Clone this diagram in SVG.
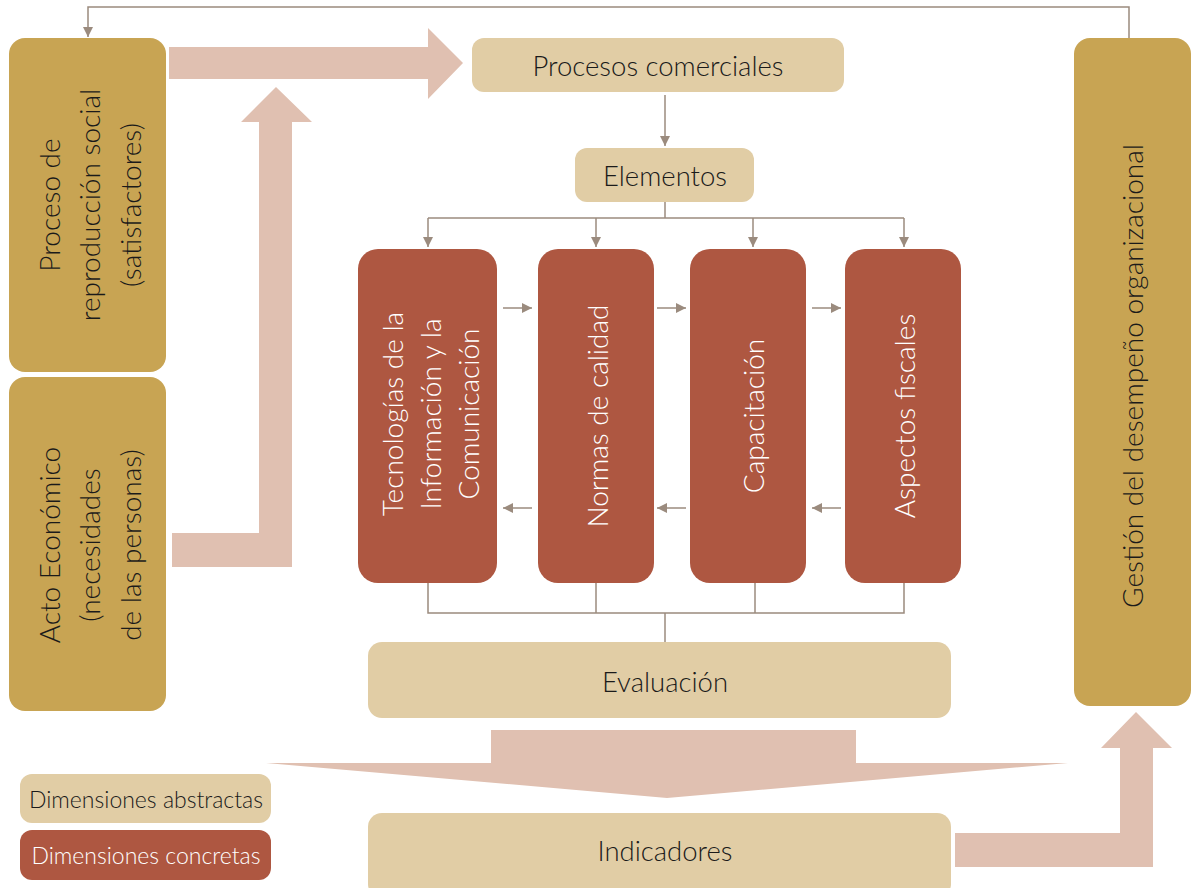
<svg xmlns="http://www.w3.org/2000/svg" width="1191" height="888" viewBox="0 0 1191 888">
<defs>
<style>
.gold{fill:#C8A453}
.sand{fill:#E1CDA5}
.red{fill:#AE5741}
.big{fill:#E0C0B1}
.ln{fill:none;stroke:#9B8B7E;stroke-width:1.5}
text{font-family:Lato,"Liberation Sans",sans-serif;font-weight:300;text-anchor:middle;dominant-baseline:central}
.t24{font-size:27.5px;fill:#1a1a1a}
.tv{font-size:28px;fill:#1a1a1a}
.tw{font-size:28px;fill:#ffffff}
.leg{font-size:23px}
</style>
<marker id="ah" viewBox="0 0 10 10" refX="10" refY="5" markerWidth="10" markerHeight="10" markerUnits="userSpaceOnUse" orient="auto">
<path d="M0,0 L10,5 L0,10 z" fill="#9B8B7E"/>
</marker>
</defs>
<rect width="1191" height="888" fill="#ffffff"/>

<g id="big-arrows">
<polygon class="big" points="169,47 428,47 428,28 463,63 428,99 428,79 169,79"/>
<polygon class="big" points="172,533 259,533 259,122 241,122 276,87 312,122 292,122 292,567 172,567"/>
<polygon class="big" points="491,730 856,730 856,763 1068,763 667,798 266,763 491,763"/>
<polygon class="big" points="955,833 1120,833 1120,748 1101,748 1136,712 1172,748 1153,748 1153,867 955,867"/>
</g>

<g id="connectors">
<polyline class="ln" points="1129,38 1129,7 88,7 88,37" marker-end="url(#ah)"/>
<line class="ln" x1="665" y1="95" x2="665" y2="146" marker-end="url(#ah)"/>
<line class="ln" x1="665" y1="202" x2="665" y2="218"/>
<line class="ln" x1="428" y1="218" x2="904" y2="218"/>
<line class="ln" x1="428" y1="218" x2="428" y2="247" marker-end="url(#ah)"/>
<line class="ln" x1="596" y1="218" x2="596" y2="247" marker-end="url(#ah)"/>
<line class="ln" x1="753" y1="218" x2="753" y2="247" marker-end="url(#ah)"/>
<line class="ln" x1="904" y1="218" x2="904" y2="247" marker-end="url(#ah)"/>
<line class="ln" x1="503" y1="308" x2="532" y2="308" marker-end="url(#ah)"/>
<line class="ln" x1="657" y1="308" x2="686" y2="308" marker-end="url(#ah)"/>
<line class="ln" x1="812" y1="308" x2="841" y2="308" marker-end="url(#ah)"/>
<line class="ln" x1="532" y1="508" x2="503" y2="508" marker-end="url(#ah)"/>
<line class="ln" x1="686" y1="508" x2="657" y2="508" marker-end="url(#ah)"/>
<line class="ln" x1="841" y1="508" x2="812" y2="508" marker-end="url(#ah)"/>
<polyline class="ln" points="428,583 428,613 904,613 904,583"/>
<line class="ln" x1="596" y1="583" x2="596" y2="613"/>
<line class="ln" x1="755" y1="583" x2="755" y2="613"/>
<line class="ln" x1="665" y1="613" x2="665" y2="642"/>
</g>

<g id="proceso-reproduccion">
<rect class="gold" x="9" y="38" width="157" height="334" rx="16"/>
<text class="tv" transform="translate(49,205) rotate(-90)">Proceso de</text>
<text class="tv" transform="translate(89,205) rotate(-90)">reproducción social</text>
<text class="tv" transform="translate(130,205) rotate(-90)">(satisfactores)</text>
</g>

<g id="acto-economico">
<rect class="gold" x="9" y="377" width="157" height="334" rx="16"/>
<text class="tv" transform="translate(49,545) rotate(-90)">Acto Económico</text>
<text class="tv" transform="translate(89,545) rotate(-90)">(necesidades</text>
<text class="tv" transform="translate(130,545) rotate(-90)">de las personas)</text>
</g>

<g id="gestion">
<rect class="gold" x="1074" y="38" width="117" height="668" rx="16"/>
<text class="tv" transform="translate(1132,376) rotate(-90)">Gestión del desempeño organizacional</text>
</g>

<g id="procesos-comerciales">
<rect class="sand" x="472" y="38" width="372" height="54" rx="12"/>
<text class="t24" x="658" y="65">Procesos comerciales</text>
</g>

<g id="elementos">
<rect class="sand" x="575" y="148" width="179" height="54" rx="12"/>
<text class="t24" x="665" y="175">Elementos</text>
</g>

<g id="tic">
<rect class="red" x="358" y="249" width="139" height="334" rx="20"/>
<text class="tw" transform="translate(392,414) rotate(-90)">Tecnologías de la</text>
<text class="tw" transform="translate(430,414) rotate(-90)">Información y la</text>
<text class="tw" transform="translate(468,414) rotate(-90)">Comunicación</text>
</g>

<g id="normas">
<rect class="red" x="538" y="249" width="116" height="334" rx="20"/>
<text class="tw" transform="translate(597,416) rotate(-90)">Normas de calidad</text>
</g>

<g id="capacitacion">
<rect class="red" x="690" y="249" width="116" height="334" rx="20"/>
<text class="tw" transform="translate(753,416) rotate(-90)">Capacitación</text>
</g>

<g id="aspectos">
<rect class="red" x="845" y="249" width="116" height="334" rx="20"/>
<text class="tw" transform="translate(904,416) rotate(-90)">Aspectos fiscales</text>
</g>

<g id="evaluacion">
<rect class="sand" x="368" y="642" width="583" height="76" rx="14"/>
<text class="t24" x="665" y="681">Evaluación</text>
</g>

<g id="indicadores">
<rect class="sand" x="368" y="813" width="583" height="85" rx="14"/>
<text class="t24" x="665" y="850">Indicadores</text>
</g>

<g id="legend-abstractas">
<rect class="sand" x="20" y="774" width="251" height="49" rx="12"/>
<text class="leg" x="146" y="799" fill="#1a1a1a">Dimensiones abstractas</text>
</g>

<g id="legend-concretas">
<rect class="red" x="20" y="830" width="251" height="50" rx="12"/>
<text class="leg" x="146" y="855" fill="#ffffff">Dimensiones concretas</text>
</g>
</svg>
